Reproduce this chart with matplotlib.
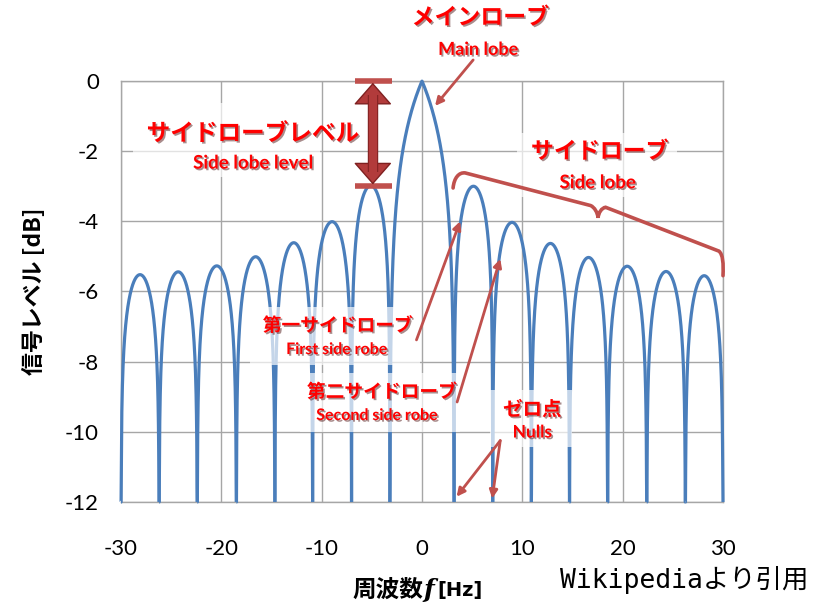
import numpy as np
import matplotlib
matplotlib.use("Agg")
import matplotlib.pyplot as plt
import matplotlib.patheffects as pe
from matplotlib.patches import Rectangle, FancyArrowPatch, PathPatch
from matplotlib.path import Path

plt.rcParams['font.family'] = ['Lato', 'Noto Sans CJK JP', 'DejaVu Sans']

# Null positions (Hz) and lobe peak levels (dB), left to right
null_freqs = [-30.0, -26.2, -22.4, -18.5, -14.66, -10.9, -7.02, -3.2,
              3.2, 7.05, 10.9, 14.7, 18.5, 22.4, 26.25, 30.0]
peak_levels = [-5.52, -5.44, -5.27, -5.01, -4.61, -4.01, -2.98, 0.0,
               -3.0, -4.03, -4.63, -5.03, -5.28, -5.43, -5.55]

x_ticks = [-30, -20, -10, 0, 10, 20, 30]
y_ticks = [0, -2, -4, -6, -8, -10, -12]
y_floor = -12

line_blue = '#4A7EBB'
note_red = '#C0504D'
text_red = '#FF0000'

fig = plt.figure(figsize=(8.13, 6.04), dpi=100)
ax = fig.add_axes([0.1488, 0.1689, 0.7405, 0.6970])
ax.set_xlim(-30, 30)
ax.set_ylim(-12, 0)

# Each lobe is an arch spanning two neighbouring nulls
for a, b, p in zip(null_freqs[:-1], null_freqs[1:], peak_levels):
    t = np.linspace(0, 1, 400)
    xs = a + (b - a) * t
    if p == max(peak_levels):
        d = np.abs(2 * t - 1)
        ys = p + 5.0 * np.log10(np.clip(1 - d, 1e-9, None))
    else:
        ys = p + 3.4 * np.log10(np.clip(np.sin(np.pi * t), 1e-9, None))
    ys = np.maximum(ys, y_floor)
    ax.plot(xs, ys, color=line_blue, lw=2.3, clip_on=False, zorder=3,
            solid_capstyle='butt')

ax.set_xticks(x_ticks)
ax.set_yticks(y_ticks)
ax.set_xticklabels([str(v) for v in x_ticks])
ax.set_yticklabels([str(v) for v in y_ticks])
ax.tick_params(axis='both', length=0, labelsize=16)
ax.tick_params(axis='x', pad=27)
ax.tick_params(axis='y', pad=16)
ax.grid(True, color='#A6A6A6', lw=1.0, zorder=0)
for s in ax.spines.values():
    s.set_color('#A6A6A6')
    s.set_linewidth(1.0)
ax.set_facecolor('none')

jp = ['Noto Sans CJK JP', 'DejaVu Sans']
en = ['Lato', 'DejaVu Sans']

fig.text(0.043, 0.517, '信号レベル [dB]', rotation=90, fontsize=16.5,
         fontweight='bold', ha='center', va='center', family=jp)

# x-axis title assembled from pieces so the frequency symbol can be italic
fig.canvas.draw()
renderer = fig.canvas.get_renderer()
xl_y = 0.023
t1 = fig.text(352 / 813, xl_y, '周波数', fontsize=17, fontweight='bold',
              ha='left', va='center', family=jp)
e1 = t1.get_window_extent(renderer)
t2 = fig.text((e1.x1 + 1) / 813, xl_y, 'f', fontsize=18, fontweight='bold',
              fontstyle='italic', ha='left', va='center', family=['DejaVu Serif'])
e2 = t2.get_window_extent(renderer)
fig.text((e2.x1 + 3) / 813, xl_y, '[Hz]', fontsize=14, fontweight='bold',
         ha='left', va='center', family=['DejaVu Sans'])

fig.text(0.994, 0.040, 'Wikipediaより引用', fontsize=19, ha='right',
         va='center', family=['DejaVu Sans Mono', 'Noto Sans CJK JP'])

# translucent label panels
panels = [(-28.8, -2.74, 18.6, 2.11),
          (9.47, -3.3, 15.9, 1.82),
          (-17.1, -8.1, 16.9, 1.66),
          (-12.2, -10.0, 16.0, 1.68),
          (6.8, -10.43, 8.2, 1.62)]
for x0, y0, w, h in panels:
    ax.add_patch(Rectangle((x0, y0), w, h, facecolor='white', alpha=0.68,
                           edgecolor='none', zorder=4, clip_on=False))

shadow = [pe.withSimplePatchShadow(offset=(1.2, -1.2), shadow_rgbFace='#400000', alpha=0.45)]

def label(x, y, s, size, fam):
    ax.text(x, y, s, color=text_red, fontsize=size, fontweight='bold',
            ha='center', va='center', family=fam, path_effects=shadow,
            zorder=7, clip_on=False)

label(5.8, 1.80, 'メインローブ', 16.5, jp)
label(5.6, 0.90, 'Main lobe', 13, en)
label(-16.85, -1.50, 'サイドローブレベル', 17, jp)
label(-16.85, -2.34, 'Side lobe level', 13.5, en)
label(17.7, -2.02, 'サイドローブ', 16.5, jp)
label(17.5, -2.90, 'Side lobe', 13.5, en)
label(-8.4, -6.98, '第一サイドローブ', 13.5, jp)
label(-8.5, -7.67, 'First side robe', 11.5, en)
label(-4.0, -8.87, '第二サイドローブ', 13.5, jp)
label(-4.5, -9.55, 'Second side robe', 11.5, en)
label(11.0, -9.38, 'ゼロ点', 14, jp)
label(11.0, -10.02, 'Nulls', 12.5, en)

def arrow(x0, y0, x1, y1):
    ax.add_patch(FancyArrowPatch((x0, y0), (x1, y1), arrowstyle='-|>',
                                 mutation_scale=12, color=note_red, lw=2.0,
                                 zorder=6, clip_on=False, shrinkA=0, shrinkB=0))

arrow(5.1, 0.6, 1.3, -0.71)
arrow(-0.55, -7.38, 3.8, -4.0)
arrow(3.5, -9.15, 7.8, -5.07)
arrow(7.8, -10.25, 3.45, -11.85)
arrow(7.8, -10.25, 7.0, -11.9)

# side lobe level marker
ax.plot([-6.7, -3.0], [0, 0], color=note_red, lw=4, solid_capstyle='butt',
        zorder=5, clip_on=False)
ax.plot([-6.7, -3.0], [-3.0, -3.0], color=note_red, lw=4, solid_capstyle='butt',
        zorder=5, clip_on=False)
ax.add_patch(FancyArrowPatch((-4.9, -2.95), (-4.9, -0.05),
                             arrowstyle='<|-|>,head_length=0.8,head_width=0.7',
                             mutation_scale=18, facecolor='#B23B3B',
                             edgecolor='#7F2020', lw=1.0, zorder=6,
                             clip_on=False, shrinkA=0, shrinkB=0))
ax.plot([-4.9, -4.9], [-2.6, -0.4], color='#B23B3B', lw=6,
        solid_capstyle='butt', zorder=6,
        path_effects=[pe.Stroke(linewidth=7.5, foreground='#7F2020'), pe.Normal()])

# brace over the side lobes
verts = [(3.1, -3.05), (3.2, -2.75), (3.7, -2.6), (4.3, -2.62),
         (16.8, -3.55),
         (17.2, -3.6), (17.5, -3.75), (17.55, -3.9),
         (17.6, -3.75), (17.9, -3.62), (18.3, -3.6),
         (29.6, -4.85),
         (30.0, -4.95), (30.05, -5.2), (30.0, -5.55)]
codes = [Path.MOVETO, Path.CURVE4, Path.CURVE4, Path.CURVE4,
         Path.LINETO,
         Path.CURVE4, Path.CURVE4, Path.CURVE4,
         Path.CURVE4, Path.CURVE4, Path.CURVE4,
         Path.LINETO,
         Path.CURVE4, Path.CURVE4, Path.CURVE4]
ax.add_patch(PathPatch(Path(verts, codes), facecolor='none', edgecolor=note_red,
                       lw=2.6, zorder=6, clip_on=False, capstyle='round'))

fig.savefig('out.png', dpi=100, facecolor='white')
